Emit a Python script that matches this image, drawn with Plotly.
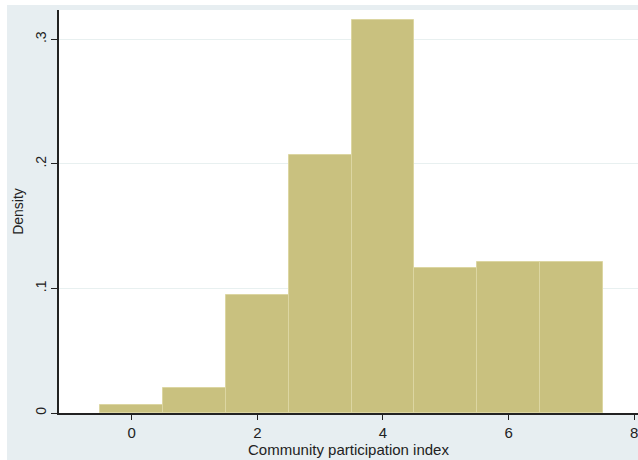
import plotly.graph_objects as go

# Histogram of the community participation index (bin width 1, density scale)
bin_centers = [0, 1, 2, 3, 4, 5, 6, 7]
density = [0.0064, 0.0200, 0.0950, 0.2068, 0.3157, 0.1164, 0.1212, 0.1212]

y_tick_vals = [0, 0.1, 0.2, 0.3]
y_tick_text = ["0", ".1", ".2", ".3"]
x_tick_vals = [0, 2, 4, 6, 8]

W, H = 638, 460
ML, MR, MT, MB = 59, 0, 10, 47
plot_w = W - ML - MR
plot_h = H - MT - MB

frame_bg = "#e7eef1"
bar_fill = "#c9c17f"
bar_edge = "#dcd6a2"
grid_col = "#e8f0f0"
font_family = "Liberation Sans, Arial, sans-serif"

fig = go.Figure(
    go.Bar(
        x=bin_centers,
        y=density,
        width=1,
        marker=dict(color=bar_fill, line=dict(color=bar_edge, width=1)),
        hoverinfo="x+y",
    )
)

fig.update_layout(
    width=W,
    height=H,
    margin=dict(l=ML, r=MR, t=MT, b=MB, pad=0),
    paper_bgcolor=frame_bg,
    plot_bgcolor="white",
    showlegend=False,
    bargap=0,
    font=dict(family=font_family, size=14, color="#222222"),
    xaxis=dict(
        range=[-1.158, 8.06],
        tickvals=x_tick_vals,
        ticks="outside",
        ticklen=5,
        tickwidth=1,
        tickcolor="#222222",
        showline=True,
        linecolor="#222222",
        linewidth=1.5,
        showgrid=False,
        zeroline=False,
        tickfont=dict(size=15),
        ticklabeloverflow="allow",
        title=dict(text="Community participation index", standoff=0,
                   font=dict(size=15)),
    ),
    yaxis=dict(
        range=[0, 0.3235],
        tickvals=y_tick_vals,
        ticktext=y_tick_text,
        tickangle=-90,
        ticks="outside",
        ticklen=6,
        tickwidth=1,
        tickcolor="#222222",
        showline=True,
        linecolor="#222222",
        linewidth=1.5,
        showgrid=True,
        gridcolor=grid_col,
        gridwidth=1,
        zeroline=False,
        tickfont=dict(size=14),
        title=dict(text="Density", standoff=6, font=dict(size=14)),
    ),
    shapes=[
        # white border strip on the left of the outer frame
        dict(type="rect", xref="paper", yref="paper",
             x0=-ML / plot_w, x1=-(ML - 7) / plot_w, y0=-MB / plot_h, y1=1 + MT / plot_h,
             fillcolor="white", line=dict(width=0), layer="below"),
        # white border strip along the top of the outer frame
        dict(type="rect", xref="paper", yref="paper",
             x0=-ML / plot_w, x1=1, y0=1 + 5 / plot_h, y1=1 + MT / plot_h,
             fillcolor="white", line=dict(width=0), layer="below"),
    ],
)

fig.write_html("out.html")
